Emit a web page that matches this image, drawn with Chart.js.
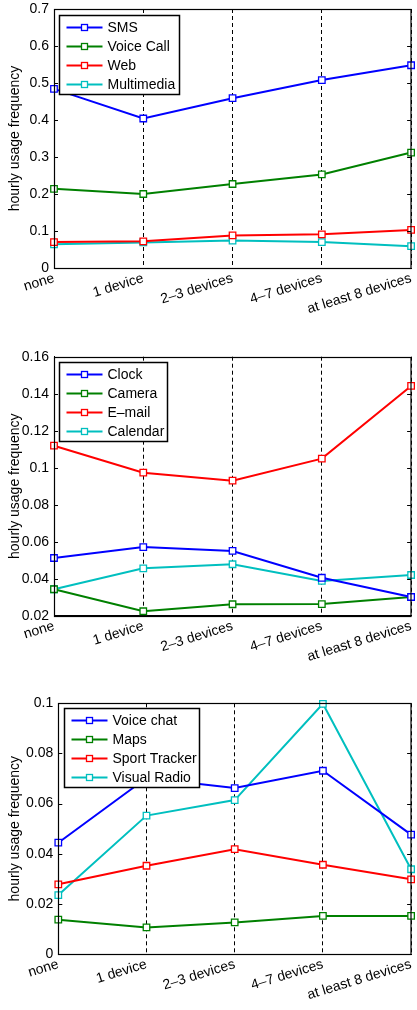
<!DOCTYPE html>
<html><head><meta charset="utf-8">
<script src="https://cdn.jsdelivr.net/npm/chart.js@4/dist/chart.umd.min.js"></script>
<style>
html,body{margin:0;padding:0;background:#fff;width:417px;height:1010px;overflow:hidden}
canvas{position:absolute;left:0}
</style></head><body>
<canvas id="c1" width="417" height="335" style="top:0px"></canvas>
<canvas id="c2" width="417" height="345" style="top:335px"></canvas>
<canvas id="c3" width="417" height="330" style="top:680px"></canvas>
<script>
// ---------- data ----------
const categories = ['none', '1 device', '2\u20133 devices', '4\u20137 devices', 'at least 8 devices'];

// panel 1
const sms        = [0.484, 0.404, 0.459, 0.508, 0.548];
const voiceCall  = [0.214, 0.200, 0.227, 0.253, 0.312];
const web        = [0.070, 0.072, 0.088, 0.091, 0.103];
const multimedia = [0.064, 0.069, 0.074, 0.070, 0.059];
const yTicks1    = [0, 0.1, 0.2, 0.3, 0.4, 0.5, 0.6, 0.7];

// panel 2
const clock    = [0.0512, 0.0571, 0.0550, 0.0405, 0.0301];
const camera   = [0.0343, 0.0224, 0.0262, 0.0263, 0.0301];
const email    = [0.1119, 0.0973, 0.0930, 0.1049, 0.1442];
const calendar = [0.0343, 0.0456, 0.0478, 0.0388, 0.0420];
const yTicks2  = [0.02, 0.04, 0.06, 0.08, 0.1, 0.12, 0.14, 0.16];

// panel 3
const voiceChat    = [0.0444, 0.0702, 0.0662, 0.0731, 0.0476];
const maps         = [0.0137, 0.0106, 0.0126, 0.0152, 0.0152];
const sportTracker = [0.0278, 0.0352, 0.0418, 0.0356, 0.0298];
const visualRadio  = [0.0235, 0.0552, 0.0614, 0.0998, 0.0338];
const yTicks3      = [0, 0.02, 0.04, 0.06, 0.08, 0.1];

const yTitle = 'hourly usage frequency';

// ---------- style ----------
const BLUE = '#0000ff', GREEN = '#008000', RED = '#ff0000', CYAN = '#00bfbf';
const FONT = {family: '"Liberation Sans", Arial, Helvetica, sans-serif', size: 14};
const FONTSTR = '14px "Liberation Sans", Arial, Helvetica, sans-serif';

function ds(label, data, color) {
  return {
    label, data,
    borderColor: color, backgroundColor: color,
    borderWidth: 2,
    pointStyle: 'rect', pointRadius: 4.6, pointHoverRadius: 4.6,
    pointBorderColor: color, pointBackgroundColor: '#ffffff', pointBorderWidth: 1.3,
    tension: 0, clip: false
  };
}

const framePlugin = {
  id: 'frame',
  afterDatasetsDraw(chart, args, opts) {
    const {ctx, chartArea: a} = chart;
    const y = chart.scales.y;
    ctx.save();
    ctx.strokeStyle = '#000';
    ctx.lineWidth = 1;
    // inward ticks on left and right
    ctx.beginPath();
    y.ticks.forEach(t => {
      const py = Math.round(y.getPixelForValue(t.value)) + 0.5;
      ctx.moveTo(a.left, py); ctx.lineTo(a.left + 4, py);
      ctx.moveTo(a.right, py); ctx.lineTo(a.right - 4, py);
    });
    ctx.stroke();
    // plot box
    ctx.lineWidth = 1.2;
    ctx.strokeRect(Math.round(a.left) + 0.5, Math.round(a.top) + 0.5,
                   Math.round(a.right - a.left) - 0.5, Math.round(a.bottom - a.top));
    // legend
    const bx = Math.round(a.left + opts.dx) + 0.5, by = Math.round(a.top + opts.dy) + 0.5;
    const bw = opts.w, bh = 79;
    ctx.fillStyle = '#fff';
    ctx.fillRect(bx, by, bw, bh);
    ctx.font = FONTSTR;
    ctx.textBaseline = 'middle';
    ctx.textAlign = 'left';
    chart.data.datasets.forEach((d, i) => {
      const ry = by + 12 + i * 19;
      ctx.strokeStyle = d.borderColor;
      ctx.lineWidth = 2;
      ctx.beginPath();
      ctx.moveTo(bx + 7, ry); ctx.lineTo(bx + 43, ry);
      ctx.stroke();
      ctx.lineWidth = 1.3;
      ctx.fillStyle = '#fff';
      ctx.fillRect(bx + 25 - 3, ry - 3, 6, 6);
      ctx.strokeRect(bx + 25 - 3, ry - 3, 6, 6);
      ctx.fillStyle = '#000';
      ctx.fillText(d.label, bx + 48, ry + 0.5);
    });
    ctx.strokeStyle = '#000';
    ctx.lineWidth = 1.5;
    ctx.strokeRect(bx, by, bw, bh);
    ctx.restore();
  }
};

function fmt(v) { return String(Number(v.toFixed(4))); }

function makeChart(id, datasets, yTicks, geo, legend) {
  const yMin = yTicks[0], yMax = yTicks[yTicks.length - 1];
  return new Chart(document.getElementById(id), {
    type: 'line',
    data: {labels: categories, datasets},
    plugins: [framePlugin],
    options: {
      responsive: false, animation: false, devicePixelRatio: 1,
      events: [],
      layout: {padding: {top: geo.top, right: 2, left: 0, bottom: 0}},
      plugins: {legend: {display: false}, tooltip: {enabled: false}, frame: legend},
      scales: {
        x: {
          type: 'category', offset: false,
          grid: {display: true, color: '#000', lineWidth: 1, drawTicks: false, drawOnChartArea: true, offset: false},
          border: {display: true, color: '#000', width: 1, dash: [4, 3]},
          ticks: {color: '#000', font: FONT, minRotation: 17, maxRotation: 17, autoSkip: false, padding: 2, labelOffset: 0},
          afterFit(s) { s.height = geo.xh; s.paddingLeft = 0; s.paddingRight = 0; }
        },
        y: {
          min: yMin, max: yMax,
          grid: {display: false, drawTicks: false},
          border: {display: true, color: '#000', width: 1},
          ticks: {color: '#000', font: FONT, padding: 5, callback: v => fmt(v)},
          afterBuildTicks(s) { s.ticks = yTicks.map(v => ({value: v})); },
          title: {display: true, text: yTitle, color: '#000', font: FONT, padding: {top: 7, bottom: 0}},
          afterFit(s) { s.width = geo.left; s.paddingTop = 0; s.paddingBottom = 0; }
        }
      }
    }
  });
}

makeChart('c1', [ds('SMS', sms, BLUE), ds('Voice Call', voiceCall, GREEN), ds('Web', web, RED), ds('Multimedia', multimedia, CYAN)],
  yTicks1, {top: 9, left: 54, xh: 335 - 268}, {dx: 5, dy: 6, w: 120});
makeChart('c2', [ds('Clock', clock, BLUE), ds('Camera', camera, GREEN), ds('E\u2013mail', email, RED), ds('Calendar', calendar, CYAN)],
  yTicks2, {top: 356.7 - 335, left: 54, xh: 680 - 615.7}, {dx: 5, dy: 5, w: 108});
makeChart('c3', [ds('Voice chat', voiceChat, BLUE), ds('Maps', maps, GREEN), ds('Sport Tracker', sportTracker, RED), ds('Visual Radio', visualRadio, CYAN)],
  yTicks3, {top: 703.3 - 680, left: 58.3, xh: 1010 - 954}, {dx: 5.7, dy: 5, w: 135});
</script>
</body></html>
